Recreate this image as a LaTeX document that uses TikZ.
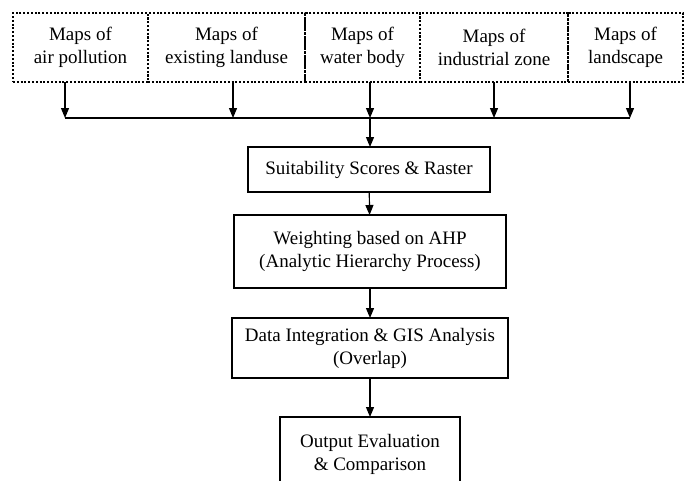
\documentclass[tikz,border=0pt]{standalone}
\usepackage{fontspec}
\setmainfont{Liberation Serif}
\usepackage{tikz}
\usetikzlibrary{positioning, arrows.meta}

\begin{document}
\begin{tikzpicture}[
        x=1pt, y=-1pt,
        font=\fontsize{19}{23}\selectfont,
        mapbox/.style={
            rectangle,
            draw,
            line width=2pt,
            dash pattern=on 2pt off 1.8pt,
            outer sep=0pt,
            align=center,
            minimum height=69pt,
            inner sep=2pt
        },
        stagebox/.style={
            rectangle,
            draw,
            line width=1.2pt,
            align=center,
            outer sep=0pt,
            inner sep=2pt
        },
        arrow/.style={-{Triangle[length=10pt, width=8pt]}, line width=1.2pt}
    ]
    \useasboundingbox (0,0) rectangle (692,480);

    % --- Input maps ---
    \node[mapbox, minimum width=135pt] (air) at (80.5,47.5) {Maps of\\air pollution};
    \node[mapbox, minimum width=157pt, right=0pt of air] (landuse) {Maps of\\existing landuse};
    \node[mapbox, minimum width=115pt, right=0pt of landuse] (water) {Maps of\\water body};
    \node[mapbox, minimum width=148pt, right=0pt of water] (industry) {Maps of\\industrial zone};
    \node[mapbox, minimum width=115pt, right=0pt of industry] (landscape) {Maps of\\landscape};

    % --- Processing steps ---
    \node[stagebox, minimum width=242pt, minimum height=45pt] (suit) at (369,169.5)
        {Suitability Scores \& Raster};
    \node[stagebox, minimum width=272pt, minimum height=73pt] (ahp) at (370,251.5)
        {Weighting based on AHP\\(Analytic Hierarchy Process)};
    \node[stagebox, minimum width=276pt, minimum height=60pt] (gis) at (370,348)
        {Data Integration \& GIS Analysis\\(Overlap)};
    \node[stagebox, minimum width=180pt, minimum height=75pt] (output) at (370,454.5)
        {Output Evaluation\\\& Comparison};

    % --- Collector line ---
    \coordinate (c1) at (65,118);
    \coordinate (c2) at (233,118);
    \coordinate (c3) at (370,118);
    \coordinate (c4) at (494,118);
    \coordinate (c5) at (630,118);

    % --- Arrows ---
    \draw[arrow] (c1 |- air.south) -- (c1);
    \draw[arrow] (c2 |- landuse.south) -- (c2);
    \draw[arrow] (c3 |- water.south) -- (c3);
    \draw[arrow] (c4 |- industry.south) -- (c4);
    \draw[arrow] (c5 |- landscape.south) -- (c5);
    \draw[line width=1.2pt] (c1) -- (c5);
    \draw[arrow] (c3) -- (c3 |- suit.north);
    \draw[arrow] (suit) -- (ahp);
    \draw[arrow] (ahp) -- (gis);
    \draw[arrow] (gis) -- (output);

\end{tikzpicture}
\end{document}
